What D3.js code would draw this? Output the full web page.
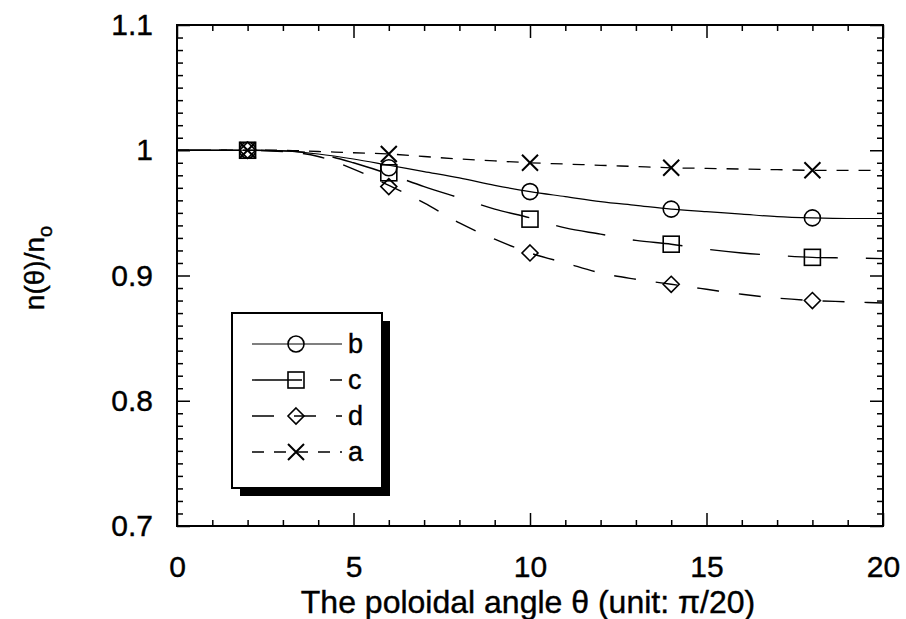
<!DOCTYPE html>
<html>
<head>
<meta charset="utf-8">
<script src="https://cdn.jsdelivr.net/npm/d3@7"></script>
<style>
  body { margin: 0; background: #fff; }
  svg text { font-family: "Liberation Sans", Arial, Helvetica, sans-serif; fill: #000; stroke: #000; stroke-width: 0.4px; }
</style>
</head>
<body>
<svg id="chart"></svg>
<script>
// curve samples, theta = 0..20
var thetaCurve = [0,1,2,3,4,5,6,7,8,9,10,11,12,13,14,15,16,17,18,19,20];
var curveA = [1,1,1,1,0.999,0.998,0.997,0.995,0.993,0.9915,0.990,0.989,0.988,0.987,0.986,0.9855,0.985,0.9845,0.984,0.984,0.984];
var curveB = [1,1,1,0.9995,0.997,0.993,0.988,0.983,0.978,0.972,0.967,0.963,0.959,0.956,0.953,0.951,0.949,0.947,0.946,0.9455,0.9455];
var curveC = [1,1,1,0.9995,0.997,0.990,0.981,0.971,0.962,0.953,0.946,0.938,0.933,0.928,0.925,0.921,0.918,0.916,0.9145,0.914,0.9135];
var curveD = [1,1,1,0.999,0.995,0.985,0.972,0.958,0.942,0.929,0.918,0.910,0.902,0.897,0.893,0.889,0.885,0.882,0.880,0.879,0.878];

// marker points
var thetaPts = [2,6,10,14,18];
var ptsA = [1.0,0.997,0.990,0.986,0.984];
var ptsB = [1.0,0.986,0.967,0.953,0.946];
var ptsC = [1.0,0.982,0.945,0.925,0.9145];
var ptsD = [1.0,0.971,0.918,0.893,0.880];

var legendOrder = ['b','c','d','a'];
var xTickLabels = [0,5,10,15,20];
var yTickLabels = [0.7,0.8,0.9,1,1.1];

var svgWidth = 906, svgHeight = 619;
var svg = d3.select('#chart')
    .attr('width', svgWidth)
    .attr('height', svgHeight);

var x = d3.scaleLinear().domain([0,20]).range([177,883]);
var y = d3.scaleLinear().domain([0.7,1.1]).range([526,25]);

var series = {
    a: {curve: curveA, pts: ptsA, dash: '12,10', width: 1.3, marker: 'x'},
    b: {curve: curveB, pts: ptsB, dash: null, width: 1.2, marker: 'circle'},
    c: {curve: curveC, pts: ptsC, dash: '50,28', width: 1.4, marker: 'square'},
    d: {curve: curveD, pts: ptsD, dash: '22,20', width: 1.4, marker: 'diamond'}
};

// ticks, all pointing inward
function tickAxis(axis, transform) {
    var g = svg.append('g').attr('transform', transform).call(axis);
    g.select('.domain').remove();
    g.selectAll('line').attr('stroke', '#000').attr('stroke-width', 1.5);
    return g;
}
var minorX = x.ticks(20).filter(function(d){ return d % 5 !== 0; });
var minorY = d3.range(71, 110).map(function(d){ return d/100; }).filter(function(d){ return Math.round(d*100) % 10 !== 0; });

tickAxis(d3.axisBottom(x).tickValues(minorX).tickSize(-6).tickFormat(''), 'translate(0,526)');
tickAxis(d3.axisTop(x).tickValues(minorX).tickSize(-6).tickFormat(''), 'translate(0,25)');
tickAxis(d3.axisLeft(y).tickValues(minorY).tickSize(-6).tickFormat(''), 'translate(177,0)');
tickAxis(d3.axisRight(y).tickValues(minorY).tickSize(-6).tickFormat(''), 'translate(883,0)');
tickAxis(d3.axisTop(x).tickValues(xTickLabels).tickSize(-13).tickFormat(''), 'translate(0,25)');
tickAxis(d3.axisRight(y).tickValues(yTickLabels).tickSize(-13).tickFormat(''), 'translate(883,0)');

var xAx = tickAxis(d3.axisBottom(x).tickValues(xTickLabels).tickSize(-13).tickPadding(30).tickFormat(d3.format('d')), 'translate(0,526)');
xAx.selectAll('text').style('font-size', '30px');
var yAx = tickAxis(d3.axisLeft(y).tickValues(yTickLabels).tickSize(-13).tickPadding(24).tickFormat(function(d){ return d === 1 ? '1' : d3.format('.1f')(d); }), 'translate(177,0)');
yAx.selectAll('text').style('font-size', '30px');

svg.append('rect')
    .attr('x', 177).attr('y', 25)
    .attr('width', 883-177).attr('height', 526-25)
    .attr('fill', 'none').attr('stroke', '#000').attr('stroke-width', 2);

// curves
var line = d3.line()
    .x(function(d){ return x(d[0]); })
    .y(function(d){ return y(d[1]); })
    .curve(d3.curveMonotoneX);

Object.keys(series).forEach(function(k){
    var s = series[k];
    svg.append('path')
        .datum(thetaCurve.map(function(t,i){ return [t, s.curve[i]]; }))
        .attr('fill', 'none')
        .attr('stroke', '#000')
        .attr('stroke-width', s.width)
        .attr('stroke-dasharray', s.dash)
        .attr('d', line);
});

function drawMarker(g, type, cx, cy) {
    var m = g.append('g').attr('transform', 'translate(' + cx + ',' + cy + ')');
    if (type === 'circle') {
        m.append('circle').attr('r', 8)
            .attr('fill', 'none').attr('stroke', '#000').attr('stroke-width', 1.6);
    } else if (type === 'square') {
        m.append('rect').attr('x', -8).attr('y', -8).attr('width', 16).attr('height', 16)
            .attr('fill', 'none').attr('stroke', '#000').attr('stroke-width', 1.6);
    } else if (type === 'diamond') {
        m.append('path').attr('d', 'M0,-8L8,0L0,8L-8,0Z')
            .attr('fill', 'none').attr('stroke', '#000').attr('stroke-width', 1.6);
    } else {
        m.append('path').attr('d', 'M-8,-8L8,8M-8,8L8,-8')
            .attr('fill', 'none').attr('stroke', '#000').attr('stroke-width', 2);
    }
}

Object.keys(series).forEach(function(k){
    var s = series[k];
    thetaPts.forEach(function(t,i){
        drawMarker(svg, s.marker, x(t), y(s.pts[i]));
    });
});

// legend
var lg = svg.append('g');
lg.append('rect').attr('x', 240).attr('y', 321).attr('width', 150).attr('height', 175).attr('fill', '#000');
lg.append('rect').attr('x', 232).attr('y', 313).attr('width', 150).attr('height', 175)
    .attr('fill', '#fff').attr('stroke', '#000').attr('stroke-width', 2);

legendOrder.forEach(function(k,i){
    var s = series[k];
    var ly = 344 + i*36;
    lg.append('line')
        .attr('x1', 252).attr('x2', 342)
        .attr('y1', ly).attr('y2', ly)
        .attr('stroke', '#000')
        .attr('stroke-width', s.width)
        .attr('stroke-dasharray', s.dash);
    drawMarker(lg, s.marker, 296, ly);
    lg.append('text')
        .attr('x', 348).attr('y', ly)
        .attr('dy', '0.35em')
        .style('font-size', '27px')
        .text(k);
});

// axis titles
svg.append('text')
    .attr('x', 528).attr('y', 613)
    .attr('text-anchor', 'middle')
    .style('font-size', '32px')
    .text('The poloidal angle θ (unit: π/20)');

var yl = svg.append('text')
    .attr('transform', 'translate(44,268) rotate(-90)')
    .attr('text-anchor', 'middle')
    .style('font-size', '28px');
yl.append('tspan').text('n(θ)/n');
yl.append('tspan').attr('dy', 8).style('font-size', '20px').text('o');
</script>
</body>
</html>
